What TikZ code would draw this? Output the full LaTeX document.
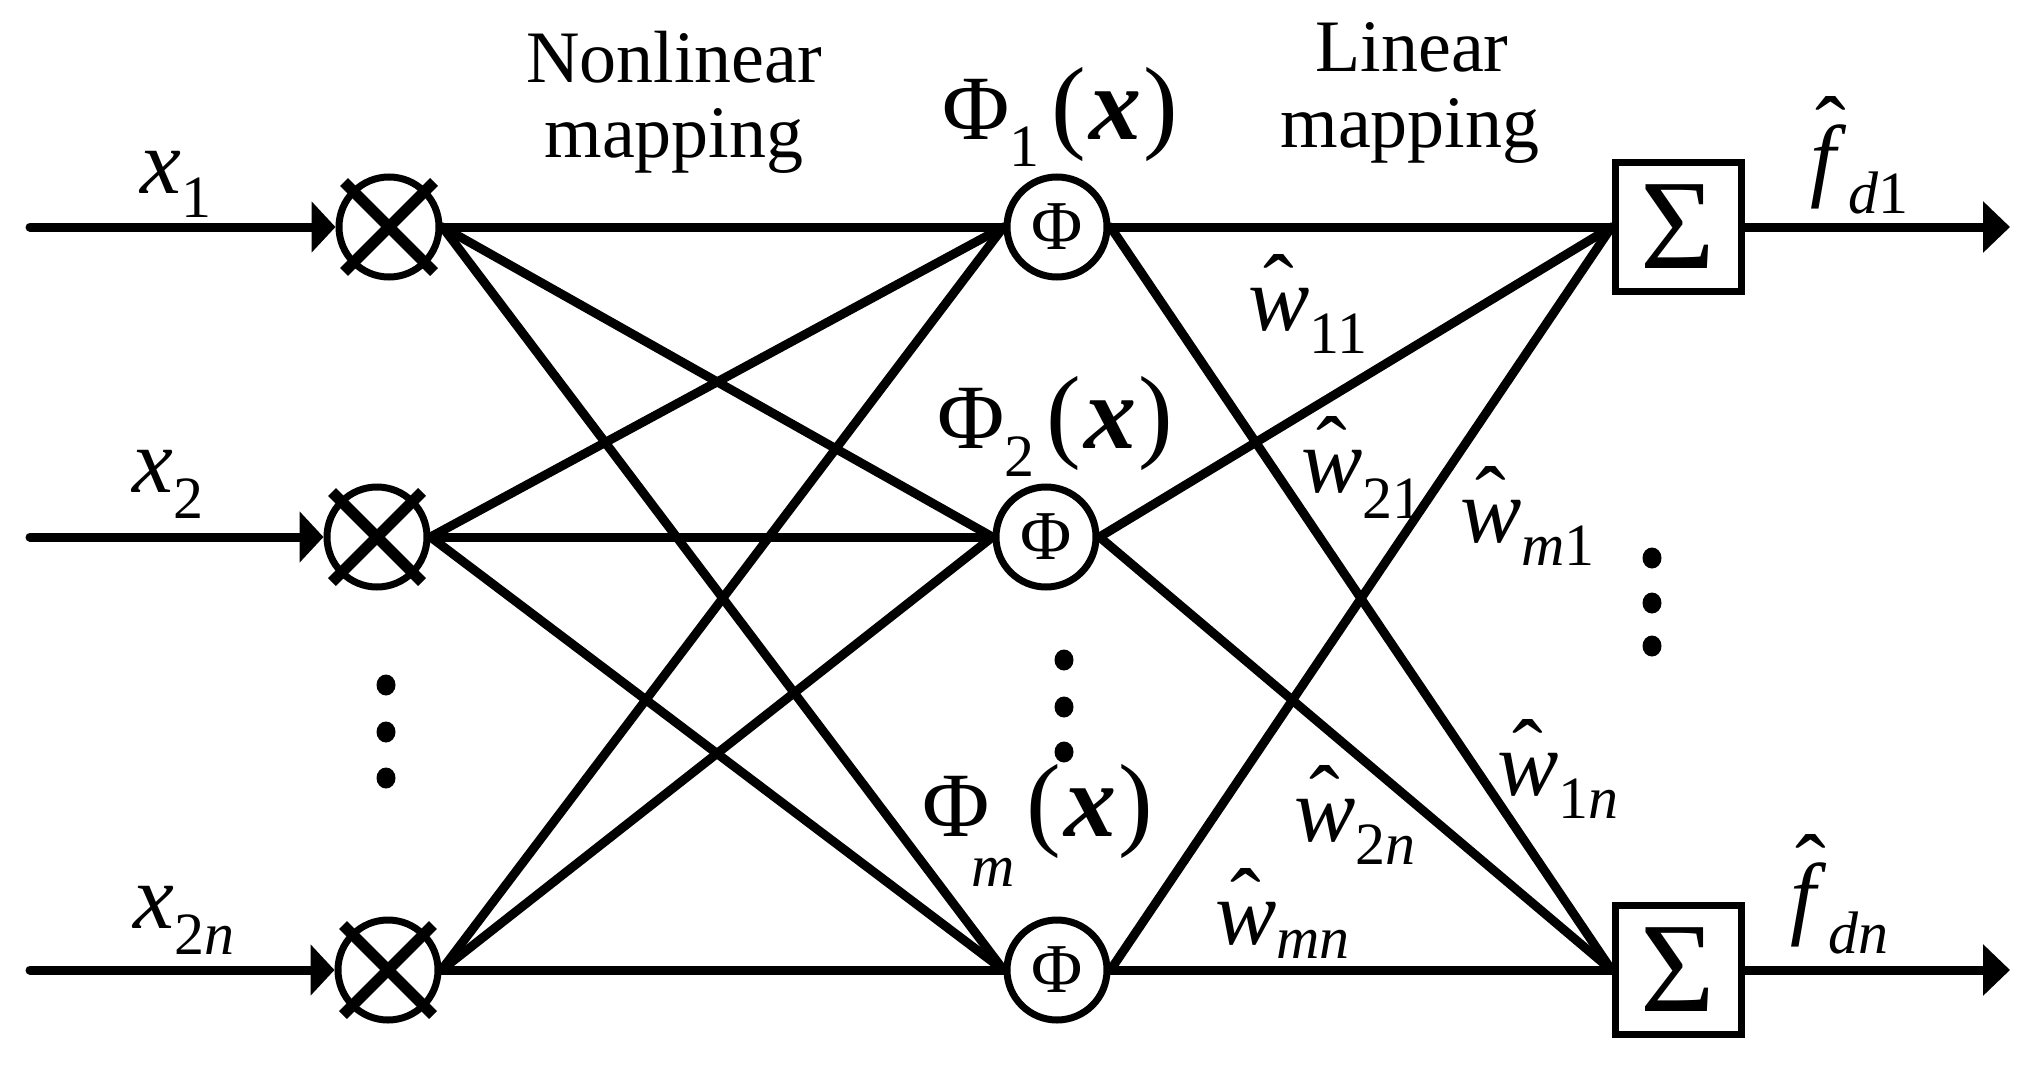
\documentclass[tikz,border=0pt]{standalone}
\usepackage{fontspec}
\setmainfont{Liberation Serif}
\usetikzlibrary{arrows.meta,shapes.geometric}
\newcommand\fs[1]{\fontsize{#1}{#1}\selectfont}
\newcommand\HatOver[3]{\setbox0\hbox{\textit{#1}}\rlap{\hbox to \wd0{\hss\hspace{#3}\raisebox{#2}{ˆ}\hss}}\box0}
\newcommand\XL[2]{\textit{x}\raisebox{-#2pt}{\fs{60}#1}}
\newcommand\WL[2]{\HatOver{w}{12pt}{0pt}\raisebox{-#2pt}{\fs{60}#1}}
\newcommand\FL[3]{\HatOver{f}{29pt}{6pt}\hspace{#3pt}\raisebox{-#2pt}{\fs{60}#1}}
\newcommand\PL[3]{Φ\hspace{#3pt}\raisebox{-#2pt}{\fs{60}#1}\hspace{12pt}{\fs{104}(\hspace{3pt}\textbf{\textit{x}}\hspace{2pt})}}
\begin{document}
\begin{tikzpicture}[x=1pt,y=-1pt,
  wire/.style={line width=9pt, line cap=round},
  ring/.style={circle, draw, line width=7pt, minimum size=100pt, inner sep=0pt},
  sumbox/.style={rectangle, draw, line width=7pt, minimum width=126pt, minimum height=129pt, inner sep=0pt},
  crossbar/.style={line width=11pt},
  inarrow/.style={line width=9pt, line cap=round, -{Triangle[length=24pt,width=50pt]}},
  outarrow/.style={line width=9pt, -{Triangle[length=27pt,width=50pt]}},
  dotmark/.style={ellipse, fill, minimum width=19pt, minimum height=21pt, inner sep=0pt},
  lbl/.style={anchor=base west, inner sep=0pt, font=\fs{92}},
  head/.style={anchor=base, inner sep=0pt, font=\fs{74}},
]
\useasboundingbox (0,0) rectangle (2038,1065);
% nodes
\node[ring] (m1) at (389,227) {};
\node[ring] (m2) at (377,537) {};
\node[ring] (m3) at (388,970) {};
\node[ring] (p1) at (1057,227) {\fs{70}Φ};
\node[ring] (p2) at (1046,537) {\fs{70}Φ};
\node[ring] (p3) at (1057,970) {\fs{70}Φ};
\node[sumbox] (s1) at (1678,227) {\fs{128}Σ};
\node[sumbox] (s2) at (1678,970) {\fs{128}Σ};
\coordinate (i1) at (30,227);
\coordinate (i2) at (30,537);
\coordinate (i3) at (30,970);
\coordinate (o1) at (2010,227);
\coordinate (o2) at (2010,970);
% crosses
\foreach \m in {m1,m2,m3}{
  \draw[crossbar] ([shift={(-45,-45)}]\m.center) -- ([shift={(45,45)}]\m.center);
  \draw[crossbar] ([shift={(-45,45)}]\m.center) -- ([shift={(45,-45)}]\m.center);
}
% inputs
\draw[inarrow] (i1) -- (m1);
\draw[inarrow] (i2) -- (m2);
\draw[inarrow] (i3) -- (m3);
% connections
\foreach \a in {m1,m2,m3}{\foreach \b in {p1,p2,p3}{\draw[wire] (\a.east) -- (\b.west);}}
\foreach \a in {p1,p2,p3}{\foreach \b in {s1,s2}{\draw[wire] (\a.east) -- (\b.west);}}
% outputs
\draw[outarrow] (s1.east) -- (o1);
\draw[outarrow] (s2.east) -- (o2);
% dots
\node[dotmark] (dl1) at (386,685) {};
\node[dotmark] (dl2) at (386,732) {};
\node[dotmark] (dl3) at (386,778) {};
\node[dotmark] (dm1) at (1064,660) {};
\node[dotmark] (dm2) at (1064,707) {};
\node[dotmark] (dm3) at (1064,752) {};
\node[dotmark] (dr1) at (1652,558) {};
\node[dotmark] (dr2) at (1652,603) {};
\node[dotmark] (dr3) at (1652,646) {};
% headings
\node[head] (nl1) at (674,82) {Nonlinear};
\node[head] (nl2) at (674,157) {mapping};
\node[head] (li1) at (1412,72) {Linear};
\node[head] (li2) at (1410,147) {mapping};
% input labels
\node[lbl] (x1) at (140,193) {\XL{1}{24}};
\node[lbl] (x2) at (132,492) {\XL{2}{26}};
\node[lbl] (x3) at (133,928) {\XL{2\textit{n}}{26}};
% phi labels
\node[lbl] (P1) at (942,139) {\PL{1}{28}{0}};
\node[lbl] (P2) at (937,448) {\PL{2}{28}{0}};
\node[lbl] (P3) at (922,836) {\PL{\textit{m}}{50}{-18}};
% weight labels
\node[lbl] (w11) at (1248,330) {\WL{11}{23}};
\node[lbl] (w21) at (1301,492) {\WL{21}{26}};
\node[lbl] (wm1) at (1460,542) {\WL{\textit{m}1}{23}};
\node[lbl] (w1n) at (1497,795) {\WL{1\textit{n}}{23}};
\node[lbl] (w2n) at (1294,841) {\WL{2\textit{n}}{23}};
\node[lbl] (wmn) at (1215,944) {\WL{\textit{mn}}{14}};
% output labels
\node[lbl] (f1) at (1810,189) {\FL{\textit{d}1}{24}{2}};
\node[lbl] (f2) at (1790,927) {\FL{\textit{dn}}{26}{2}};
\end{tikzpicture}
\end{document}
